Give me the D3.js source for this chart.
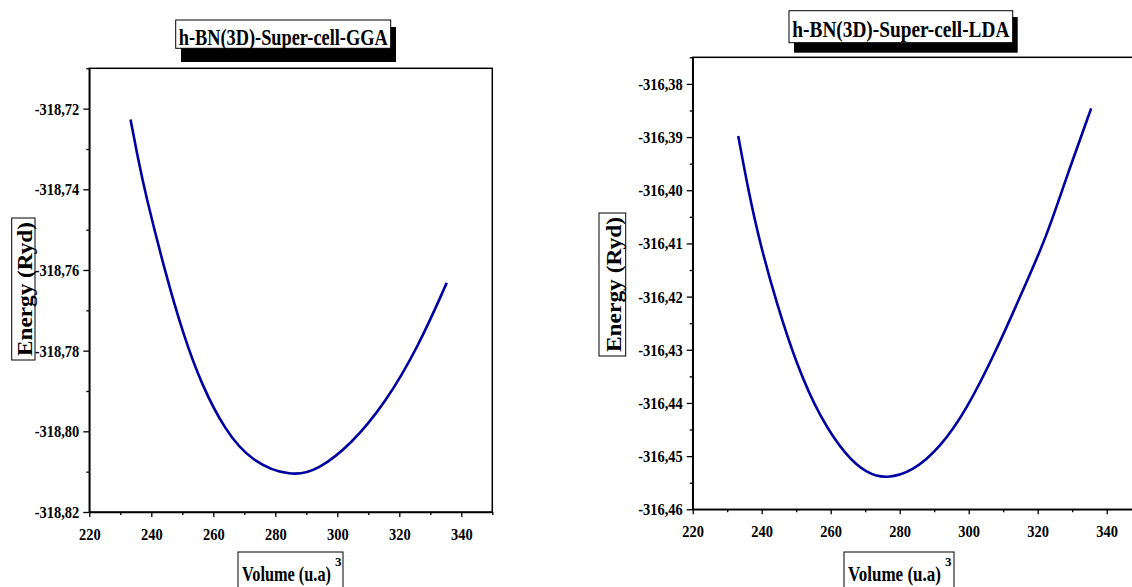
<!DOCTYPE html>
<html>
<head>
<meta charset="utf-8">
<script src="https://cdn.jsdelivr.net/npm/d3@7"></script>
<style>
  body { margin: 0; background: #fff; }
  svg { display: block; font-family: "Liberation Serif", "Times New Roman", serif; font-weight: bold; }
</style>
</head>
<body>
<script>
"use strict";

// GGA curve
let ggaVolume = [233.3, 235.8, 238.0, 244.4, 250.3, 256.2, 263.8, 272.4, 285.1, 293.9, 304.6, 315.4, 326.1, 335.3];
let ggaEnergy = [-318.7227, -318.7327, -318.7408, -318.7604, -318.7760, -318.7884, -318.7998, -318.8076, -318.8113, -318.8096, -318.8031, -318.7931, -318.7791, -318.7632];
let ggaTicks = [-318.82, -318.80, -318.78, -318.76, -318.74, -318.72];

// LDA curve
let ldaVolume = [233.2, 236.1, 239.5, 244.3, 250.1, 256.9, 264.6, 270.4, 276.2, 284.0, 291.7, 299.4, 308.1, 315.8, 322.6, 328.4, 335.5];
let ldaEnergy = [-316.3898, -316.4000, -316.4100, -316.4212, -316.4328, -316.4428, -316.4501, -316.4532, -316.4543, -316.4528, -316.4484, -316.4413, -316.4300, -316.4187, -316.4087, -316.3974, -316.3846];
let ldaTicks = [-316.46, -316.45, -316.44, -316.43, -316.42, -316.41, -316.40, -316.39, -316.38];

let volumeTicks = [220, 240, 260, 280, 300, 320, 340];

let svg = d3.select("body").append("svg").attr("width", 1132).attr("height", 587);

// comma decimals and a plain hyphen, like the original
let fmt = v => v.toFixed(2).replace(".", ",");

let drawPanel = (p) => {
    let x = d3.scaleLinear().domain([220, 350]).range([p.left, p.right]);
    let y = d3.scaleLinear().domain(p.yDomain).range([p.bottom, p.top]);

    // frame
    svg.append("rect")
        .attr("x", p.left).attr("y", p.top)
        .attr("width", p.right - p.left).attr("height", p.bottom - p.top)
        .attr("fill", "none").attr("stroke", "#000").attr("stroke-width", 1.5);

    let xMinor = d3.range(230, 351, 20);

    let xAxis = svg.append("g").attr("transform", `translate(0,${p.bottom})`)
        .call(d3.axisBottom(x).tickValues(volumeTicks).tickSize(5).tickPadding(11).tickSizeOuter(0));
    svg.append("g").attr("transform", `translate(0,${p.bottom})`)
        .call(d3.axisBottom(x).tickValues(xMinor).tickSize(3).tickFormat("").tickSizeOuter(0))
        .select(".domain").remove();

    let yAxis = svg.append("g").attr("transform", `translate(${p.left},0)`)
        .call(d3.axisLeft(y).tickValues(p.yTicks).tickSize(6).tickFormat(fmt).tickSizeOuter(0));
    svg.append("g").attr("transform", `translate(${p.left},0)`)
        .call(d3.axisLeft(y).tickValues(p.yMinor).tickSize(3).tickFormat("").tickSizeOuter(0))
        .select(".domain").remove();

    svg.selectAll(".tick line").attr("stroke", "#000").attr("stroke-width", 1.3);
    svg.selectAll(".domain").attr("stroke-width", 1.5);

    xAxis.selectAll("text")
        .attr("font-size", 17).attr("font-family", "Liberation Serif").attr("font-weight", "bold")
        .attr("fill", "#000")
        .attr("transform", "scale(0.85,1)");
    yAxis.selectAll("text")
        .attr("font-size", 17).attr("font-family", "Liberation Serif").attr("font-weight", "bold")
        .attr("fill", "#000")
        .attr("x", 0)
        .attr("transform", "translate(-10,0) scale(0.85,1)");

    // curve
    let pts = p.vol.map((v, i) => [v, p.en[i]]);
    svg.append("path")
        .datum(pts)
        .attr("fill", "none")
        .attr("stroke", "#0000a0")
        .attr("stroke-width", 2.6)
        .attr("d", d3.line().x(d => x(d[0])).y(d => y(d[1])).curve(d3.curveBasis));

    // title with shadow
    let t = p.title;
    svg.append("rect").attr("x", t.sx).attr("y", t.sy).attr("width", t.w).attr("height", t.sh).attr("fill", "#000");
    svg.append("rect").attr("x", t.x).attr("y", t.y).attr("width", t.w).attr("height", t.h)
        .attr("fill", "#fff").attr("stroke", "#000").attr("stroke-width", 1);
    svg.append("text").attr("x", t.x + t.w / 2).attr("y", t.base)
        .attr("text-anchor", "middle").attr("font-size", 24)
        .attr("textLength", t.len).attr("lengthAdjust", "spacingAndGlyphs")
        .text(t.text);

    // y label
    let yl = p.ylab;
    svg.append("rect").attr("x", yl.x).attr("y", yl.y).attr("width", yl.w).attr("height", yl.h)
        .attr("fill", "#fff").attr("stroke", "#000").attr("stroke-width", 1);
    svg.append("text")
        .attr("transform", `translate(${yl.base},${yl.y + yl.h / 2}) rotate(-90)`)
        .attr("text-anchor", "middle").attr("font-size", 20)
        .attr("textLength", yl.h - 8).attr("lengthAdjust", "spacingAndGlyphs")
        .text("Energy (Ryd)");

    // x label with superscript 3
    let xl = p.xlab;
    svg.append("rect").attr("x", xl.x).attr("y", 552).attr("width", xl.w).attr("height", 50)
        .attr("fill", "#fff").attr("stroke", "#000").attr("stroke-width", 1);
    svg.append("text").attr("x", xl.x + 4).attr("y", 581).attr("font-size", 22)
        .attr("textLength", xl.len).attr("lengthAdjust", "spacingAndGlyphs")
        .text("Volume (u.a)");
    svg.append("text").attr("x", xl.x + 8 + xl.len).attr("y", 566).attr("font-size", 13)
        .text("3");
};

drawPanel({
    left: 89.3, right: 492.3, top: 68.3, bottom: 512,
    yDomain: [-318.82, -318.71], yTicks: ggaTicks,
    yMinor: [-318.81, -318.79, -318.77, -318.75, -318.73, -318.71],
    vol: ggaVolume, en: ggaEnergy,
    title: { text: "h-BN(3D)-Super-cell-GGA", x: 175.7, y: 20, w: 215, h: 28.3, sx: 181, sy: 27, sh: 35, base: 45, len: 209 },
    ylab: { x: 11.7, y: 218, w: 23.3, h: 142, base: 32 },
    xlab: { x: 238, w: 105, len: 89 }
});

drawPanel({
    left: 692.7, right: 692.7 + 130 * 3.45, top: 57.3, bottom: 509.3,
    yDomain: [-316.46, -316.375], yTicks: ldaTicks,
    yMinor: d3.range(8).map(i => -316.455 + i * 0.01).concat([-316.375]),
    vol: ldaVolume, en: ldaEnergy,
    title: { text: "h-BN(3D)-Super-cell-LDA", x: 789, y: 10.7, w: 223.7, h: 32, sx: 794, sy: 17, sh: 35.7, base: 37, len: 217 },
    ylab: { x: 599, y: 213, w: 26.7, h: 143, base: 620.5 },
    xlab: { x: 844, w: 110, len: 93 }
});
</script>
</body>
</html>
